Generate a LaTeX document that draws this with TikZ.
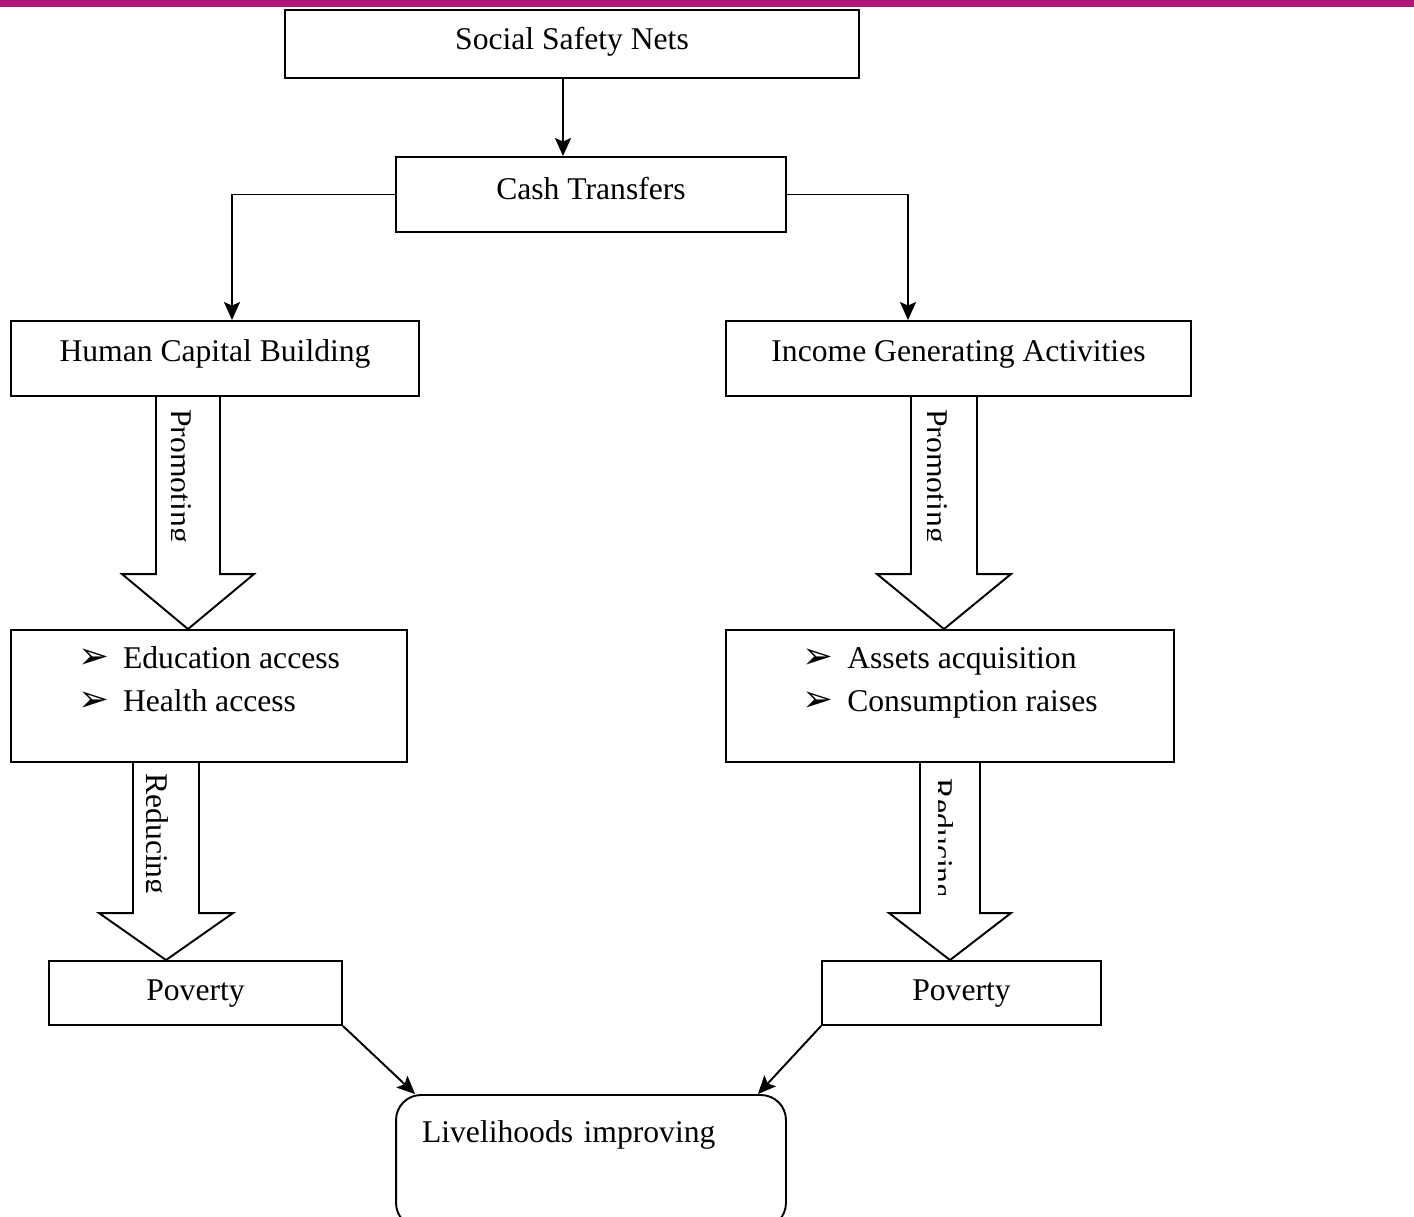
\documentclass[tikz,border=0pt]{standalone}
\usepackage{fontspec}
\setmainfont{Liberation Serif}
\newfontfamily\symb{DejaVu Sans}
\usetikzlibrary{arrows.meta,calc}
\definecolor{Bar}{HTML}{B01478}
\tikzset{box/.style={draw,line width=1.1pt,inner sep=0pt},oneline/.style={text height=12.5pt,text depth=#1},oneline/.default=5pt,conn/.style={-{Stealth[length=3.6mm,width=3.2mm,inset=.7mm]},line width=1.1pt},fat/.style={line width=1.1pt,line join=miter}}
\newcommand{\itemarrow}{\makebox[.9cm][l]{\symb\fontsize{21}{21}\selectfont ➢}}

\begin{document}
\begin{tikzpicture}[x=.02cm,y=-.02cm,font=\fontsize{18}{24.4}\selectfont]
  \useasboundingbox (0,0) rectangle (1414,1217);
  \clip (0,0) rectangle (1414,1217);
  \fill[Bar] (0,0) rectangle (1414,7);
  % boxes
  \node[box,oneline=5.7pt,minimum width=11.48cm,minimum height=1.36cm] (ssn) at (572,44) {Social Safety Nets};
  \node[box,oneline=6.3pt,minimum width=7.8cm,minimum height=1.5cm] (cash) at (591,194.5) {Cash Transfers};
  \node[box,oneline=9.5pt,minimum width=8.16cm,minimum height=1.5cm] (hcb) at (215,358.5) {Human Capital Building};
  \node[box,oneline=9.5pt,minimum width=9.3cm,minimum height=1.5cm] (inc) at (958.5,358.5) {Income Generating Activities};
  \node[box,minimum width=7.92cm,minimum height=2.64cm] (edu) at (209,696) {\begin{tabular}{@{}l@{}}\itemarrow Education access\\\itemarrow Health access\\[.6cm]\end{tabular}};
  \node[box,minimum width=8.96cm,minimum height=2.64cm] (ast) at (950,696) {\begin{tabular}{@{}l@{}}\itemarrow Assets acquisition\\\itemarrow Consumption raises\\[.6cm]\end{tabular}};
  \node[box,oneline=3.5pt,minimum width=5.86cm,minimum height=1.28cm] (povl) at (195.5,993) {Poverty};
  \node[box,oneline=3.5pt,minimum width=5.58cm,minimum height=1.28cm] (povr) at (961.5,993) {Poverty};
  \node[box,rounded corners=.5cm,inner xsep=.52cm,text width=6.76cm,align=left,minimum height=2.66cm,oneline=34.7pt] (liv) at (591,1161.5) {Livelihoods improving};
  % connectors
  \coordinate (s1) at ([xshift=-.18cm]ssn.south);
  \draw[conn] (s1) -- (s1 |- cash.north);
  \draw[conn] (cash.west) -| ([xshift=.34cm]hcb.north);
  \draw[conn] (cash.east) -| ([xshift=-1.01cm]inc.north);
  \draw[conn] (povl.south east) -- ([xshift=.4cm]liv.north west);
  \draw[conn] (povr.south west) -- ([xshift=-.58cm]liv.north east);
  % block arrows with clipped words
  \foreach \a/\b/\cx/\sw/\hw/\hl/\w/\bl/\cl/\st/\cb in {hcb/edu/188/32/66/55/Promoting/-18/-17/12/-55,inc/ast/944/33/67/55/Promoting/-18/-17/12/-55,edu/povl/166/33/67/47/Reducing/-20/-19.5/10/-47,ast/povr/950/30/61/47/Reducing/-19/-12/15/-66}{
    \draw[fat] ($(\cx,0 |- \a.south)+(-\sw,0)$) -- ($(\cx,0 |- \b.north)+(-\sw,-\hl)$) -- ($(\cx,0 |- \b.north)+(-\hw,-\hl)$) -- (\cx,0 |- \b.north) -- ($(\cx,0 |- \b.north)+(\hw,-\hl)$) -- ($(\cx,0 |- \b.north)+(\sw,-\hl)$) -- ($(\cx,0 |- \a.south)+(\sw,0)$);
    \begin{scope}
      \clip ($(\cx,0 |- \a.south)+(\cl,0)$) rectangle ($(\cx,0 |- \b.north)+(\sw,\cb)$);
      \node[rotate=-90,anchor=base west,inner sep=0pt] (txt-\a) at ($(\cx,0 |- \a.south)+(\bl,\st)$) {\w};
    \end{scope}
  }
\end{tikzpicture}
\end{document}
